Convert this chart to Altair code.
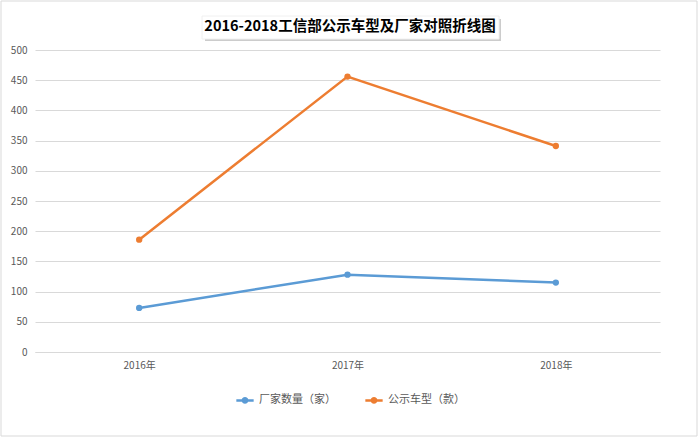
import altair as alt
import pandas as pd

years = ["2016年", "2017年", "2018年"]
series_names = ["厂家数量（家）", "公示车型（款）"]
makers = [73, 128, 115]
models = [186, 456, 341]
colors = ["#5B9BD5", "#ED7D31"]
y_ticks = [0, 50, 100, 150, 200, 250, 300, 350, 400, 450, 500]
title_text = "2016-2018工信部公示车型及厂家对照折线图"

rows = []
for y, v in zip(years, makers):
    rows.append({"year": y, "series": series_names[0], "value": v})
for y, v in zip(years, models):
    rows.append({"year": y, "series": series_names[1], "value": v})
df = pd.DataFrame(rows)

FONT = "Noto Sans CJK SC"
one = pd.DataFrame({"k": [0]})

# decorative frame, title box with shadow (pixel offsets from plot origin)
frame = alt.Chart(one).mark_rect(fill=None, stroke="#d9d9d9", strokeWidth=1).encode(
    x=alt.value(-34), x2=alt.value(662), y=alt.value(-49), y2=alt.value(386))
shadow = alt.Chart(one).mark_rect(fill="#bfbfbf", opacity=0.8).encode(
    x=alt.value(170), x2=alt.value(466), y=alt.value(-31), y2=alt.value(-9))
box = alt.Chart(one).mark_rect(fill="white", stroke="#f0f0f0", strokeWidth=1).encode(
    x=alt.value(167), x2=alt.value(464), y=alt.value(-34), y2=alt.value(-11))
title = alt.Chart(one).mark_text(
    font=FONT, fontSize=14.5, fontWeight="bold", color="#000000",
    align="center", baseline="middle",
).encode(x=alt.value(315), y=alt.value(-23), text=alt.value(title_text))

lines = alt.Chart(df).mark_line(
    strokeWidth=2.5,
    point=alt.OverlayMarkDef(filled=True, size=40),
).encode(
    x=alt.X("year:N", sort=years, scale=alt.Scale(type="point", padding=0.5),
            axis=alt.Axis(title=None, labelAngle=0, ticks=False, domain=True,
                          domainColor="#d9d9d9", labelColor="#595959",
                          labelFontSize=10, labelPadding=8, grid=False,
                          labelFont=FONT)),
    y=alt.Y("value:Q", scale=alt.Scale(domain=[0, 500], nice=False),
            axis=alt.Axis(title=None, values=y_ticks, ticks=False, domain=False,
                          gridColor="#d9d9d9", labelColor="#595959",
                          labelFontSize=10, labelPadding=8, labelFont=FONT)),
    color=alt.Color("series:N",
                    scale=alt.Scale(domain=series_names, range=colors),
                    legend=alt.Legend(title=None, orient="none", direction="horizontal",
                                      legendX=200, legendY=340,
                                      symbolType="M-1,0L1,0M-0.25,0A0.25,0.25 0 1 0 0.25,0A0.25,0.25 0 1 0 -0.25,0",
                                      symbolSize=300, symbolStrokeWidth=2.5,
                                      labelFontSize=11, labelColor="#595959",
                                      labelFont=FONT, columnPadding=24)),
)

chart = alt.layer(frame, shadow, box, title, lines).properties(
    width=625, height=302,
    padding={"left": 35, "top": 50, "right": 40, "bottom": 87},
    autosize=alt.AutoSizeParams(type="none"),
    background="white",
).configure_view(stroke=None)

chart.save("out.html", embed_options={"renderer": "svg", "actions": False})
